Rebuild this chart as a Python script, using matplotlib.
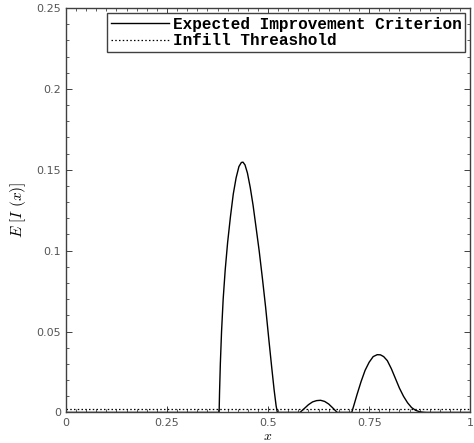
import matplotlib
matplotlib.use('Agg')
import matplotlib.pyplot as plt
from matplotlib.ticker import MultipleLocator

# expected improvement
x_ei = [0.0, 0.379, 0.380, 0.382, 0.385, 0.389, 0.394, 0.400, 0.407, 0.414,
        0.421, 0.428, 0.434, 0.438, 0.443, 0.449, 0.456, 0.463, 0.470, 0.478,
        0.486, 0.494, 0.502, 0.509, 0.515, 0.520, 0.523,
        0.579, 0.590, 0.600, 0.610, 0.620, 0.630, 0.640, 0.650, 0.660, 0.671,
        0.707, 0.713, 0.720, 0.730, 0.740, 0.750, 0.760, 0.770, 0.778, 0.786,
        0.795, 0.805, 0.815, 0.825, 0.835, 0.845, 0.855, 0.865, 0.875, 0.885,
        0.893, 1.0]
y_ei = [0.0, 0.0, 0.012, 0.030, 0.050, 0.070, 0.088, 0.105, 0.121, 0.135,
        0.145, 0.152, 0.1545, 0.1547, 0.153, 0.148, 0.139, 0.128, 0.115, 0.100,
        0.083, 0.065, 0.045, 0.028, 0.014, 0.004, 0.0,
        0.0, 0.0025, 0.0048, 0.0065, 0.0073, 0.0075, 0.0068, 0.0052, 0.0028, 0.0,
        0.0, 0.005, 0.011, 0.019, 0.026, 0.031, 0.0345, 0.0357, 0.0356, 0.0345,
        0.032, 0.027, 0.021, 0.015, 0.010, 0.006, 0.003, 0.0013, 0.0004, 0.0001,
        0.0, 0.0]
threshold = 0.002

x_ticks = [0, 0.25, 0.5, 0.75, 1]
x_labels = ['0', '0.25', '0.5', '0.75', '1']
y_ticks = [0, 0.05, 0.1, 0.15, 0.2, 0.25]
y_labels = ['0', '0.05', '0.1', '0.15', '0.2', '0.25']

plt.rcParams['mathtext.fontset'] = 'cm'

fig = plt.figure(figsize=(4.74, 4.43), dpi=100)
ax = fig.add_axes([0.139, 0.069, 0.853, 0.913])

ax.plot(x_ei, y_ei, color='black', lw=1.0, label='Expected Improvement Criterion')
ax.plot([0, 1], [threshold, threshold], color='black', lw=0.9,
        linestyle=(0, (1.2, 1.8)), label='Infill Threashold')

ax.set_xlim(0, 1)
ax.set_ylim(0, 0.25)
ax.set_xticks(x_ticks)
ax.set_xticklabels(x_labels)
ax.set_yticks(y_ticks)
ax.set_yticklabels(y_labels)
ax.xaxis.set_minor_locator(MultipleLocator(0.025))
ax.yaxis.set_minor_locator(MultipleLocator(0.01))
ax.tick_params(which='both', direction='in', top=True, right=True,
               colors='#404040', labelcolor='#555555', labelsize=8)
ax.tick_params(which='major', length=4, width=0.7)
ax.tick_params(which='minor', length=2, width=0.6)
ax.tick_params(axis='x', which='major', pad=4)
for s in ax.spines.values():
    s.set_color('#404040')
    s.set_linewidth(1.0)

ax.set_xlabel(r'$x$', fontsize=10)
ax.xaxis.set_label_coords(0.5, -0.04)
ax.set_ylabel(r'$E\ [I\ (x)]$', fontsize=11)
ax.yaxis.set_label_coords(-0.094, 0.5)

leg = ax.legend(loc='upper right', prop={'family': 'Liberation Mono', 'weight': 'bold', 'size': 11.5},
                fancybox=False, framealpha=1, edgecolor='#404040', handlelength=3.6,
                borderaxespad=0.3, borderpad=0.25, labelspacing=0.1, handletextpad=0.25)
leg.get_frame().set_linewidth(1.0)

fig.savefig('out.png', dpi=100)
